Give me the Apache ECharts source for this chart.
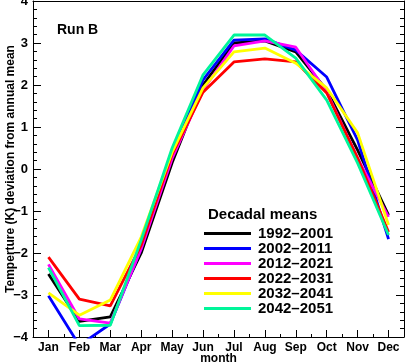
<!DOCTYPE html>
<html><head><meta charset="utf-8">
<script src="https://cdn.jsdelivr.net/npm/echarts@6/dist/echarts.min.js"></script>
<style>html,body{margin:0;padding:0;background:#fff}#c{width:407px;height:364px}</style>
</head><body><div id="c"></div>
<script>
const months = ['Jan','Feb','Mar','Apr','May','Jun','Jul','Aug','Sep','Oct','Nov','Dec'];
const names = ['1992–2001','2002–2011','2012–2021','2022–2031','2032–2041','2042–2051'];
const colors = ['#000000','#0000ff','#ff00ff','#ff0000','#ffff00','#00f59a'];
const d1992 = [-2.5, -3.63, -3.52, -2.0, 0.15, 2.0, 3.0, 3.05, 2.79, 1.88, 0.45, -1.1];
const d2002 = [-3.02, -4.2, -3.69, -1.9, 0.35, 2.12, 3.07, 3.1, 2.83, 2.19, 0.69, -1.67];
const d2012 = [-2.27, -3.57, -3.67, -1.9, 0.25, 1.88, 2.93, 3.05, 2.9, 1.84, 0.26, -1.14];
const d2022 = [-2.1, -3.1, -3.26, -1.81, 0.35, 1.83, 2.55, 2.62, 2.55, 1.81, 0.26, -1.5];
const d2032 = [-2.95, -3.48, -3.12, -1.62, 0.4, 1.93, 2.79, 2.88, 2.52, 1.93, 0.86, -1.33];
const d2042 = [-2.35, -3.73, -3.72, -1.69, 0.5, 2.24, 3.19, 3.19, 2.64, 1.64, 0.14, -1.57];
const allData = [d1992, d2002, d2012, d2022, d2032, d2042];
const yTicks = [-4, 4, 1];

const F = 'Liberation Sans, Arial, sans-serif';
const chart = echarts.init(document.getElementById('c'), null, {renderer:'canvas'});
chart.setOption({
  animation:false,
  backgroundColor:'#fff',
  grid:{left:33, right:3, top:1, bottom:27, containLabel:false, outerBoundsMode:'none'},
  xAxis:[{
    type:'category', data:months, boundaryGap:true, position:'bottom',
    axisLine:{show:true, onZero:false, lineStyle:{color:'#000', width:1}},
    axisTick:{show:true, inside:true, alignWithLabel:true, length:7, lineStyle:{color:'#000'}},
    axisLabel:{color:'#000', fontFamily:F, fontWeight:'bold', fontSize:12, margin:5, interval:0},
    splitLine:{show:false},
    name:'month', nameLocation:'middle', nameGap:16, nameMoveOverlap:false,
    nameTextStyle:{color:'#000', fontFamily:F, fontWeight:'bold', fontSize:12}
  },{
    type:'value', min:0, max:12, interval:1, position:'bottom',
    axisLine:{show:false, onZero:false}, axisLabel:{show:false}, splitLine:{show:false},
    axisTick:{show:true, inside:true, length:3, lineStyle:{color:'#000'}}
  },{
    type:'value', min:0, max:12, position:'top',
    axisLine:{show:true, onZero:false, lineStyle:{color:'#000'}},
    axisLabel:{show:false}, axisTick:{show:false}, splitLine:{show:false}
  }],
  yAxis:[{
    type:'value', min:yTicks[0], max:yTicks[1], interval:yTicks[2], position:'left',
    axisLine:{show:true, onZero:false, lineStyle:{color:'#000'}},
    axisTick:{show:true, inside:true, length:8, lineStyle:{color:'#000'}},
    minorTick:{show:true, splitNumber:5, length:4, lineStyle:{color:'#000'}},
    axisLabel:{color:'#000', fontFamily:F, fontWeight:'bold', fontSize:13, margin:5,
      formatter:v=> v<0 ? '−'+Math.abs(v) : String(v)},
    splitLine:{show:false},
    name:'Temperture (K) deviation from annual mean', nameLocation:'middle', nameGap:16, nameMoveOverlap:false,
    nameTextStyle:{color:'#000', fontFamily:F, fontWeight:'bold', fontSize:12}
  },{
    type:'value', min:yTicks[0], max:yTicks[1], interval:yTicks[2], position:'right',
    axisLine:{show:true, onZero:false, lineStyle:{color:'#000'}},
    axisTick:{show:true, inside:true, length:8, lineStyle:{color:'#000'}},
    minorTick:{show:true, splitNumber:5, length:4, lineStyle:{color:'#000'}},
    axisLabel:{show:false}, splitLine:{show:false}
  }],
  legend:{
    orient:'vertical', left:204, top:226, padding:0, itemGap:0, itemWidth:47, itemHeight:3,
    icon:'rect', selectedMode:false,
    textStyle:{color:'#000', fontFamily:F, fontWeight:'bold', fontSize:15, lineHeight:15, padding:[0,0,0,2]},
    data:names
  },
  graphic:[
    {type:'text', left:57, top:23, style:{text:'Run B', font:'bold 14px '+F, fill:'#000'}},
    {type:'text', left:208, top:207, style:{text:'Decadal means', font:'bold 15px '+F, fill:'#000'}}
  ],
  series: names.map((n,i)=>({
    name:n, type:'line', xAxisIndex:0, yAxisIndex:0, data:allData[i],
    symbol:'none', clip:true, color:colors[i],
    lineStyle:{color:colors[i], width:2.8}
  }))
});
</script></body></html>
